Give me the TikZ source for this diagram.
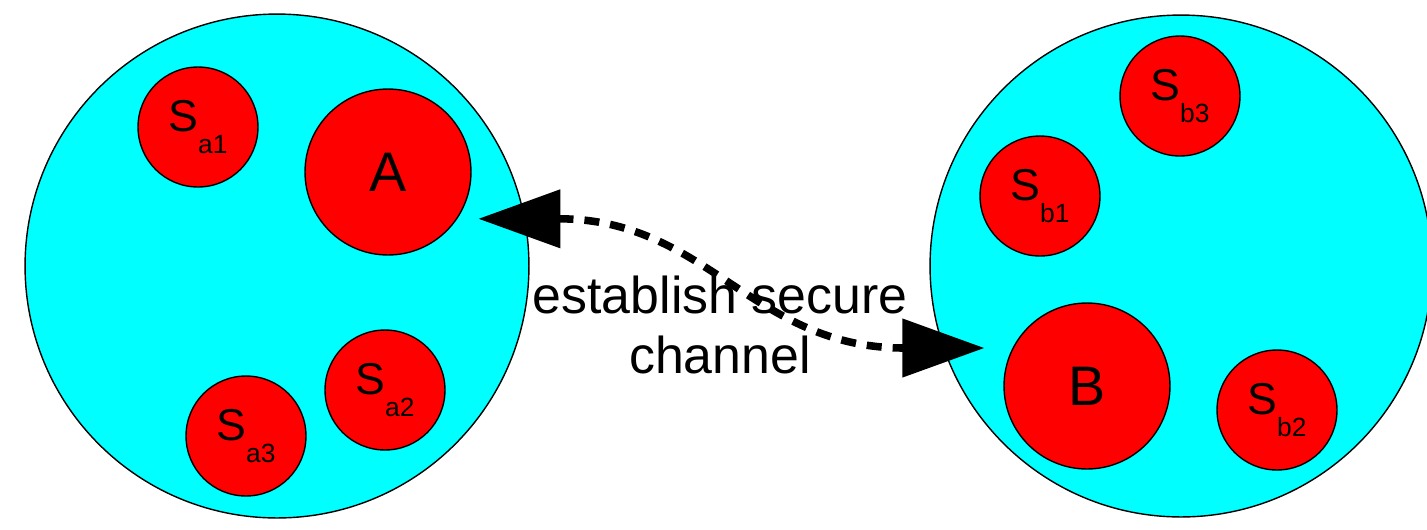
\documentclass[tikz,border=0pt]{standalone}
\usepackage{fontspec}
\setmainfont{Liberation Sans}
\usetikzlibrary{arrows.meta}

\definecolor{zonecyan}{RGB}{0,255,255}
\definecolor{serverred}{RGB}{255,0,0}
\tikzset{
    zone/.style={circle, draw=black, line width=0.8pt, fill=zonecyan, inner sep=0pt},
    server/.style={circle, draw=black, line width=0.8pt, fill=serverred, inner sep=0pt,
        minimum size=2.4cm, font=\fontsize{25.4}{30}\selectfont},
    principal/.style={server, minimum size=3.32cm, font=\fontsize{31.7}{38}\selectfont},
    securelink/.style={line width=4.3pt, dash pattern=on 0.3cm off 0.22cm,
        {Triangle[length=1.64cm,width=1.14cm]}-{Triangle[length=1.64cm,width=1.14cm]}}
}
\newcommand{\sublabel}[1]{S\raisebox{-0.44cm}{\fontsize{15}{18}\selectfont #1}}

\begin{document}
\begin{tikzpicture}[x=0.02cm, y=-0.02cm]
        \useasboundingbox (0,0) rectangle (1427,529);
        % Domains
        \node[zone, minimum size=10.08cm] (DomainA) at (277,266) {};
        \node[zone, minimum size=10.04cm] (DomainB) at (1181,266) {};
        % Principals
        \node[principal] (A) at (388,172) {A};
        \node[principal] (B) at (1087,386) {B};
        % Servers of each domain
        \foreach \name/\x/\y/\idx in {Sa1/198/127/a1, Sa2/385/390/a2, Sa3/246/436/a3,
                                      Sb1/1040/196/b1, Sb2/1277/410/b2, Sb3/1180/96/b3} {
            \node[server] (\name) at (\x,\y) {\sublabel{\idx}};
        }
        % Channel label
        \node[
            font=\fontsize{29.5}{34}\selectfont,
            align=center,
            inner sep=0pt
        ] (label) at (720,325) {establish secure\\channel};
        % Secure channel between A and B
        \draw[securelink, shorten <=0.42cm, shorten >=0.56cm]
            (A.-34) .. controls +(250,0) and +(-260,0) .. (B.153);
    \end{tikzpicture}
\end{document}
